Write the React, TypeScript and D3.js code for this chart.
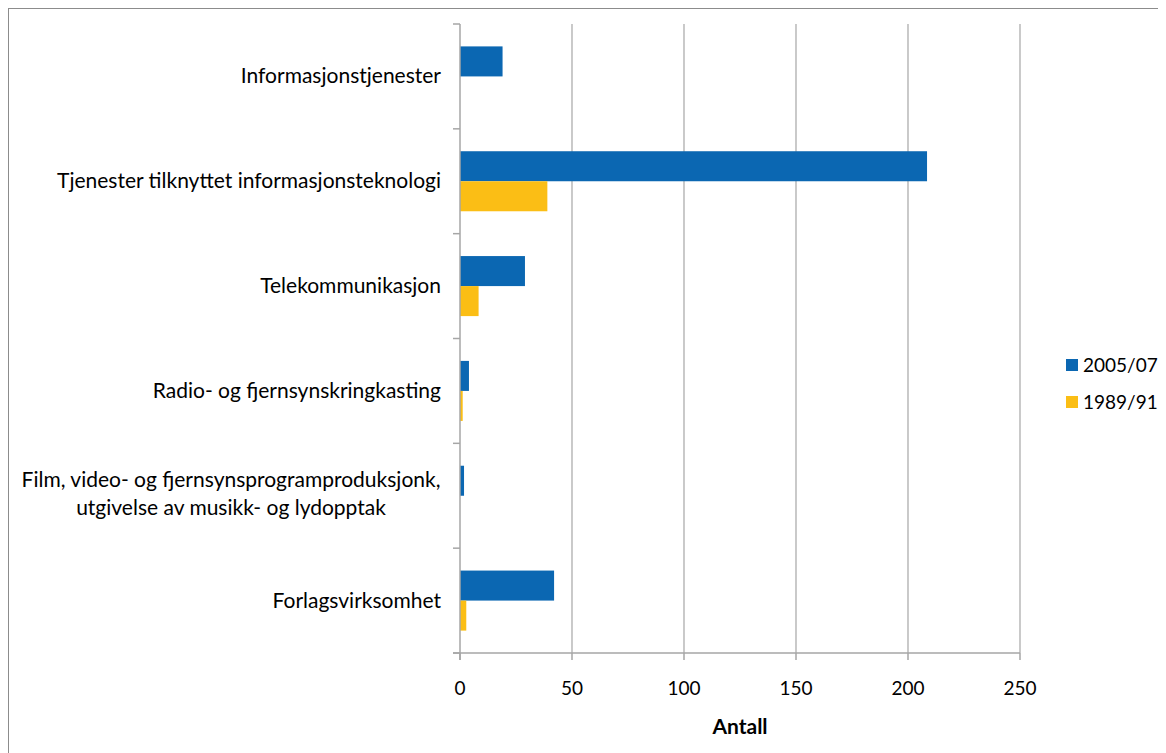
import React from "react";
import * as d3 from "d3";

const categories = [
  "Informasjonstjenester",
  "Tjenester tilknyttet informasjonsteknologi",
  "Telekommunikasjon",
  "Radio- og fjernsynskringkasting",
  "Film, video- og fjernsynsprogramproduksjonk,|utgivelse av musikk- og lydopptak",
  "Forlagsvirksomhet",
];
const seriesNames = ["2005/07", "1989/91"];
const values2005 = [19, 208.5, 29, 4, 1.8, 42];
const values1989 = [0, 39, 8.3, 1.2, 0, 2.8];
const xTicks = [0, 50, 100, 150, 200, 250];
const colors = ["#0b67b2", "#fbbe15"];

const FONT = "Lato, 'Open Sans', sans-serif";

export default function App() {
  const left = 460, right = 1020, top = 24, bottom = 653;
  const x = d3.scaleLinear().domain([0, 250]).range([left, right]);
  const y = d3.scaleBand().domain(categories).range([top, bottom]).padding(0);
  const bw = y.bandwidth();
  const inner = d3.scaleBand().domain(seriesNames).range([22.4, bw - 22.4]).padding(0);
  const series = [values2005, values1989];

  return (
    <svg width={1170} height={760} style={{ display: "block", fontFamily: FONT }}>
      <rect x={0.5} y={0.5} width={1200} height={800} fill="#fff" stroke="#8c8c8c" strokeWidth={1} />
      <g transform="translate(-8,-8)">
        {/* gridlines */}
        {xTicks.slice(1).map((t) => (
          <line key={t} x1={x(t)} x2={x(t)} y1={top} y2={bottom} stroke="#a6a6a6" strokeWidth={1.2} />
        ))}
        {/* bars */}
        {series.map((vals, si) =>
          categories.map((c, ci) =>
            vals[ci] > 0 ? (
              <rect
                key={`${si}-${ci}`}
                x={x(0)}
                y={(y(c) as number) + (inner(seriesNames[si]) as number)}
                width={x(vals[ci]) - x(0)}
                height={inner.bandwidth()}
                fill={colors[si]}
              />
            ) : null
          )
        )}
        {/* y axis */}
        <line x1={left} x2={left} y1={top} y2={bottom + 7} stroke="#a6a6a6" strokeWidth={1.5} />
        {categories.concat(["__end"]).map((_, i) => {
          const yy = top + i * bw;
          return <line key={i} x1={left - 7} x2={left} y1={yy} y2={yy} stroke="#a6a6a6" strokeWidth={1.5} />;
        })}
        {/* x axis */}
        <line x1={left - 7} x2={right} y1={bottom} y2={bottom} stroke="#a6a6a6" strokeWidth={1.5} />
        {xTicks.map((t) => (
          <g key={t}>
            <line x1={x(t)} x2={x(t)} y1={bottom} y2={bottom + 7} stroke="#a6a6a6" strokeWidth={1.5} />
            <text x={x(t)} y={695} textAnchor="middle" fontSize={19} fill="#000">
              {t}
            </text>
          </g>
        ))}
        <text x={(left + right) / 2} y={734} textAnchor="middle" fontSize={21} fontWeight="bold" fill="#000">
          Antall
        </text>
        {/* category labels */}
        {categories.map((c) => {
          const cy = (y(c) as number) + bw / 2;
          const parts = c.split("|");
          if (parts.length === 1) {
            return (
              <text key={c} x={441} y={cy + 7} textAnchor="end" fontSize={21} fill="#000">
                {c}
              </text>
            );
          }
          return (
            <g key={c}>
              {parts.map((p, i) => (
                <text key={i} x={231} y={cy - 14 + 7 + i * 28 - 2} textAnchor="middle" fontSize={21} fill="#000">
                  {p}
                </text>
              ))}
            </g>
          );
        })}
        {/* legend */}
        {seriesNames.map((s, i) => (
          <g key={s}>
            <rect x={1066} y={359 + i * 37} width={12} height={12} fill={colors[i]} />
            <text x={1083} y={372 + i * 37} fontSize={19} fill="#000">
              {s}
            </text>
          </g>
        ))}
      </g>
    </svg>
  );
}
